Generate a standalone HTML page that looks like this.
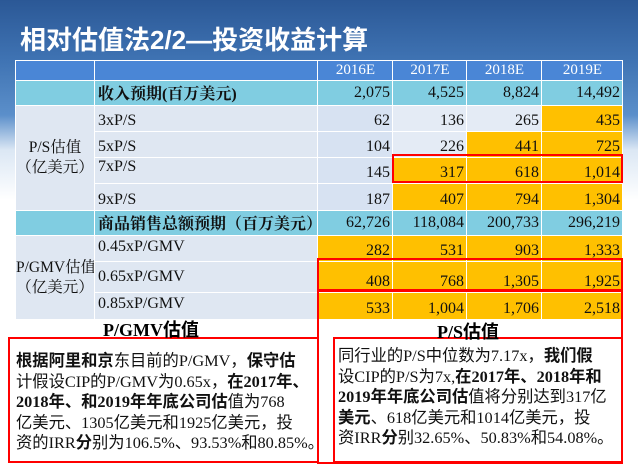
<!DOCTYPE html>
<html><head><meta charset="utf-8"><style>
body{margin:0;width:638px;height:474px;overflow:hidden;position:relative;background:linear-gradient(180deg,#2b5896 0,#3f73b3 60px,#5b8fca 115px,#dbe7f4 150px,#fff 200px);font-family:"Liberation Serif","Noto Serif CJK SC",serif}
.t{position:absolute;left:20px;top:20px;color:#fff;font:bold 26px "Liberation Sans","Noto Sans CJK SC",sans-serif;letter-spacing:0}
table{position:absolute;left:15px;top:60px;border-collapse:collapse;table-layout:fixed;width:607px}
td{border:1px solid #fff;padding:0 2px 1px 3px;font-size:16px;color:#111;vertical-align:bottom;text-align:right;background:#e4ebf5;white-space:nowrap;overflow:hidden}
td.l{text-align:left;background:#dfe7f2}
td.c{text-align:center;vertical-align:middle;background:#dfe7f2;line-height:20px;padding:0;font-size:15.5px}
td.a{background:#d7e2f2}
td.o{background:#ffc000}
tr.h td{background:#4a86d6;color:#fff;text-align:center;vertical-align:middle;font-size:15px}
tr.r td{background:#80cde1;vertical-align:middle}
.b{position:absolute;border:2px solid #f00;box-sizing:border-box}
.x{position:absolute;font-size:16.3px;line-height:20.5px;color:#111;font-family:"Liberation Serif","Noto Sans CJK SC",serif;white-space:nowrap}
.s{position:absolute;font-weight:bold;font-size:18px;font-family:"Liberation Serif","Noto Sans CJK SC",serif}
</style></head><body>
<div class="t">相对估值法2/2—投资收益计算</div>
<table>
<colgroup><col style="width:79px"><col style="width:223px"><col style="width:75px"><col style="width:74px"><col style="width:75px"><col style="width:81px"></colgroup>
<tr class="h" style="height:20px"><td></td><td></td><td>2016E</td><td>2017E</td><td>2018E</td><td>2019E</td></tr>
<tr class="r" style="height:22px"><td></td><td style="text-align:left;font-weight:bold">收入预期(百万美元)</td><td>2,075</td><td>4,525</td><td>8,824</td><td>14,492</td></tr>
<tr style="height:26px"><td class="c" rowspan="4">P/S估值<br>（亿美元）</td><td class="l">3xP/S</td><td class="a">62</td><td>136</td><td>265</td><td class="o">435</td></tr>
<tr style="height:26px"><td class="l">5xP/S</td><td class="a">104</td><td>226</td><td class="o">441</td><td class="o">725</td></tr>
<tr style="height:26px"><td class="l" style="vertical-align:top">7xP/S</td><td class="a">145</td><td class="o">317</td><td class="o">618</td><td class="o">1,014</td></tr>
<tr style="height:27px"><td class="l">9xP/S</td><td class="a">187</td><td class="o">407</td><td class="o">794</td><td class="o">1,304</td></tr>
<tr class="r" style="height:25px"><td></td><td style="text-align:left;font-weight:bold">商品销售总额预期（百万美元）</td><td>62,726</td><td>118,084</td><td>200,733</td><td>296,219</td></tr>
<tr style="height:26px"><td class="c" rowspan="3">P/GMV估值<br>（亿美元）</td><td class="l" style="vertical-align:top;padding-top:2px">0.45xP/GMV</td><td class="o">282</td><td class="o">531</td><td class="o">903</td><td class="o">1,333</td></tr>
<tr style="height:31px"><td class="l" style="vertical-align:middle">0.65xP/GMV</td><td class="o">408</td><td class="o">768</td><td class="o">1,305</td><td class="o">1,925</td></tr>
<tr style="height:27px"><td class="l" style="vertical-align:top;padding-top:2px">0.85xP/GMV</td><td class="o">533</td><td class="o">1,004</td><td class="o">1,706</td><td class="o">2,518</td></tr>
</table>
<div class="b" style="left:392px;top:154px;width:231px;height:29px"></div>
<div class="b" style="left:317px;top:258px;width:306px;height:33px"></div>
<div class="b" style="left:317px;top:290px;width:306px;height:174px"></div>
<div class="b" style="left:333px;top:337px;width:290px;height:126px"></div>
<div class="b" style="left:8px;top:337px;width:311px;height:126px"></div>
<div class="s" style="left:103px;top:316px">P/GMV估值</div>
<div class="s" style="left:437px;top:318px">P/S估值</div>
<div class="x" style="left:16px;top:351px"><b>根据阿里和京</b>东目前的P/GMV，<b>保守估</b><br>计假设CIP的P/GMV为0.65x，<b>在2017年、</b><br><b>2018年、和2019年年底公司估</b>值为768<br>亿美元、1305亿美元和1925亿美元，投<br>资的IRR<b>分</b>别为106.5%、93.53%和80.85%。</div>
<div class="x" style="left:338px;top:346px">同行业的P/S中位数为7.17x，<b>我们假</b><br>设CIP的P/S为7x,<b>在2017年、2018年和</b><br><b>2019年年底公司估</b>值将分别达到317亿<br><b>美元</b>、618亿美元和1014亿美元，投<br>资IRR<b>分</b>别32.65%、50.83%和54.08%。</div>
</body></html>
